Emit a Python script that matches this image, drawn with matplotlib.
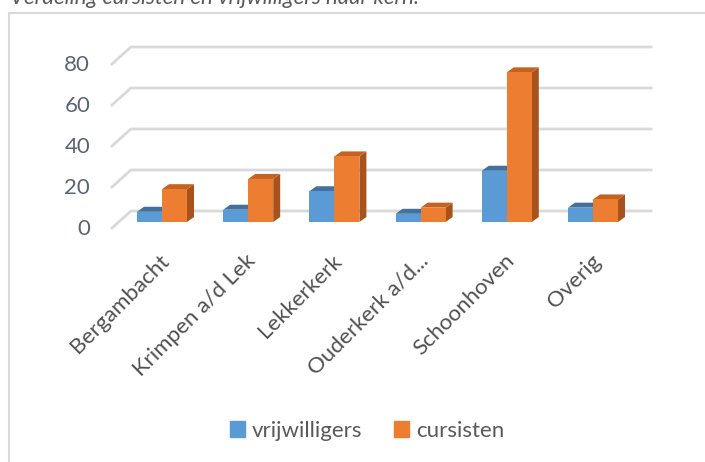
import numpy as np
import matplotlib.pyplot as plt
from matplotlib.patches import Polygon, Rectangle, Patch

# data
categories = ["Bergambacht", "Krimpen a/d Lek", "Lekkerkerk", "Ouderkerk a/d...", "Schoonhoven", "Overig"]
vrijwilligers = [5, 6, 15, 4, 25, 7]
cursisten = [16, 21, 32, 7, 73, 11]
y_ticks = [0, 20, 40, 60, 80]
title = "Verdeling cursisten en vrijwilligers naar kern."

W, H = 705, 462
px_cat = 86.2      # pixels per category
px_unit = 2.05     # pixels per value unit
x0_px, y0_px = 162, 222   # pixel of first category center / value 0 (bar plane)

text_col = "#595959"
grid_col = "#d9d9d9"
colors = [("#5b9bd5", "#41719c", "#3e6e9c"), ("#ed7d31", "#c5621f", "#a9531c")]

fig = plt.figure(figsize=(W / 100, H / 100), dpi=100)
ax = fig.add_axes([0, 0, 1, 1])
ax.set_xlim(-x0_px / px_cat, (W - x0_px) / px_cat)
ax.set_ylim((y0_px - H) / px_unit, y0_px / px_unit)
ax.axis("off")

font = "Lato"
bw = 25 / px_cat
ddx, ddy = 7 / px_cat, 5 / px_unit          # bar depth
fdx, fdy = -8 / px_cat, -7 / px_unit        # front edge of floor
bdx, bdy = 12 / px_cat, 11 / px_unit        # back wall
n = len(categories)

# gridlines (left wall diagonal + back wall)
for v in y_ticks:
    ax.plot([-0.5 + fdx, -0.5 + bdx, n - 0.5 + bdx + 0.05], [v + fdy, v + bdy, v + bdy],
            color=grid_col, lw=2, zorder=1, solid_capstyle="butt")
    ax.text(-0.5 + fdx - 0.24, v + fdy, str(v), ha="right", va="center",
            fontsize=16, color="#5a6475", family=font)

# 3d-ish bars
xc = np.arange(n)
for i, vals in enumerate([vrijwilligers, cursisten]):
    front, top, side = colors[i]
    xl = xc - bw + i * bw
    for x, v in zip(xl, vals):
        ax.add_patch(Polygon([(x + bw, 0), (x + bw, v), (x + bw + ddx, v + ddy), (x + bw + ddx, ddy)],
                             closed=True, fc=side, ec="none", zorder=2 + i))
        ax.add_patch(Polygon([(x, v), (x + bw, v), (x + bw + ddx, v + ddy), (x + ddx, v + ddy)],
                             closed=True, fc=top, ec="none", zorder=2 + i))
    ax.bar(xl, vals, width=bw, align="edge", color=front, zorder=2 + i)

# category labels
for x, lab in zip(xc, categories):
    ax.text(x - 0.03, -14, lab, rotation=45, rotation_mode="anchor", ha="right", va="top",
            fontsize=16, color="#505050", family=font)

# legend
handles = [Patch(color=colors[0][0], label="vrijwilligers"), Patch(color=colors[1][0], label="cursisten")]
fig.legend(handles=handles, loc="center", bbox_to_anchor=(367 / W, 1 - 431 / H), ncol=2, frameon=False,
           prop={"family": font, "size": 16}, labelcolor=text_col, handlelength=0.7, handleheight=0.7,
           handletextpad=0.3, columnspacing=1.4)

# chart border and clipped title
fig.patches.append(Rectangle((9 / W, -0.1), 1.2, 1.1 - 13 / H, transform=fig.transFigure,
                             fill=False, ec=grid_col, lw=1.5))
fig.text(10 / W, 1 - 4 / H, title, ha="left", va="baseline", fontsize=16, style="italic",
         color=text_col, family=font)

fig.savefig("out.png", dpi=100)
